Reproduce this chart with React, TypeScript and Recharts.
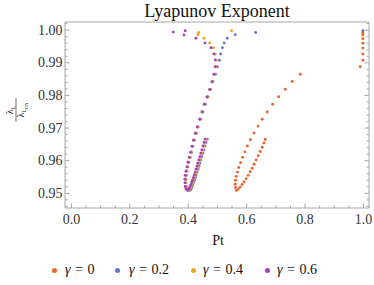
import { ScatterChart, Scatter, XAxis, YAxis } from "recharts";

const FONT = '"Liberation Serif", "Times New Roman", Times, "DejaVu Serif", "Noto Serif", serif';
const FRAME = "#a6a6a6";
const LABEL = "#333333";

const series = ["γ = 0", "γ = 0.2", "γ = 0.4", "γ = 0.6"];
const colors = ["#e8632b", "#6278cf", "#f2a321", "#a246b5"];

// [Pt, ratio] pairs
const gamma0: number[][] = [
  [0.7836, 0.9865], [0.7562, 0.9843], [0.7322, 0.9819], [0.7096, 0.9796], [0.689, 0.9773],
  [0.6705, 0.9749], [0.6534, 0.9727], [0.6394, 0.9706], [0.625, 0.9685], [0.613, 0.9664],
  [0.6027, 0.9645], [0.5942, 0.9627], [0.5863, 0.961], [0.5795, 0.9594], [0.5733, 0.9579],
  [0.5685, 0.9565], [0.5644, 0.9552], [0.5616, 0.954], [0.5606, 0.9528], [0.562, 0.9518],
  [0.5651, 0.9509], [0.5719, 0.9513], [0.5781, 0.9519], [0.5846, 0.9527], [0.5914, 0.9535],
  [0.5983, 0.9545], [0.6051, 0.9555], [0.612, 0.9566], [0.6188, 0.9577], [0.6257, 0.9589],
  [0.6325, 0.9602], [0.6397, 0.9615], [0.6466, 0.9628], [0.6534, 0.9641], [0.6592, 0.9654],
  [0.6637, 0.9665],
  [0.998, 0.9992], [0.998, 0.9986], [0.998, 0.9974], [0.998, 0.996], [0.998, 0.9945],
  [0.998, 0.9927], [0.998, 0.9908], [0.989, 0.9888],
];

const gamma02: number[][] = [
  [0.998, 0.9998], [0.6308, 0.9993], [0.561, 0.9986], [0.5336, 0.9975], [0.5233, 0.9961],
  [0.5171, 0.9946], [0.511, 0.9927], [0.5068, 0.9908], [0.5, 0.9888], [0.4932, 0.9865],
  [0.4846, 0.9842], [0.476, 0.9818], [0.4675, 0.9795], [0.4582, 0.9773], [0.4503, 0.9749],
  [0.4425, 0.9727], [0.4342, 0.9703], [0.4274, 0.9684], [0.4212, 0.9663], [0.4161, 0.9644],
  [0.4116, 0.9626], [0.4068, 0.961], [0.4024, 0.9595], [0.399, 0.9581], [0.3955, 0.9568],
  [0.3932, 0.9555], [0.3921, 0.9543], [0.3921, 0.9532], [0.3932, 0.9521], [0.3955, 0.9513],
  [0.4053, 0.9509], [0.408, 0.9511], [0.4104, 0.9515], [0.4128, 0.952], [0.4156, 0.9526],
  [0.4183, 0.9533], [0.4214, 0.954], [0.4245, 0.9548], [0.4275, 0.9556], [0.4306, 0.9565],
  [0.4337, 0.9574], [0.4368, 0.9583], [0.4399, 0.9592], [0.4433, 0.9602], [0.4467, 0.9612],
  [0.4502, 0.9623], [0.4536, 0.9633], [0.4573, 0.9645], [0.4611, 0.9656], [0.4652, 0.9666],
];

const gamma04: number[][] = [
  [0.5486, 0.9998], [0.4356, 0.9993], [0.4332, 0.9986], [0.4538, 0.9975], [0.4733, 0.9961],
  [0.4856, 0.9946], [0.4925, 0.9927], [0.4959, 0.9908], [0.4949, 0.9888], [0.4897, 0.9865],
  [0.4829, 0.9842], [0.475, 0.9818], [0.4658, 0.9795], [0.4565, 0.9773], [0.4486, 0.9749],
  [0.4408, 0.9727], [0.4325, 0.9703], [0.4257, 0.9684], [0.4195, 0.9663], [0.4144, 0.9644],
  [0.4099, 0.9626], [0.4051, 0.961], [0.4007, 0.9595], [0.3973, 0.9581], [0.3938, 0.9568],
  [0.3914, 0.9555], [0.3904, 0.9543], [0.3904, 0.9532], [0.3914, 0.9521], [0.3938, 0.9513],
  [0.4018, 0.9509], [0.4045, 0.9511], [0.4069, 0.9515], [0.4093, 0.952], [0.4121, 0.9526],
  [0.4148, 0.9533], [0.4179, 0.954], [0.421, 0.9548], [0.424, 0.9556], [0.4271, 0.9565],
  [0.4302, 0.9574], [0.4333, 0.9583], [0.4364, 0.9592], [0.4398, 0.9602], [0.4432, 0.9612],
  [0.4467, 0.9623], [0.4501, 0.9633], [0.4538, 0.9645], [0.4576, 0.9656], [0.4617, 0.9666],
];

const gamma06: number[][] = [
  [0.3486, 0.9994], [0.3897, 0.9998], [0.3853, 0.9985], [0.4264, 0.9975], [0.4572, 0.9961],
  [0.4777, 0.9946], [0.488, 0.9927], [0.4925, 0.9909], [0.4925, 0.9888], [0.488, 0.9865],
  [0.4812, 0.9842], [0.4733, 0.9818], [0.464, 0.9795], [0.4548, 0.9773], [0.4469, 0.9749],
  [0.439, 0.9727], [0.4308, 0.9703], [0.424, 0.9684], [0.4178, 0.9663], [0.4127, 0.9644],
  [0.4082, 0.9626], [0.4034, 0.961], [0.399, 0.9595], [0.3955, 0.9581], [0.3921, 0.9568],
  [0.3897, 0.9555], [0.3887, 0.9543], [0.3887, 0.9532], [0.3897, 0.9521], [0.3921, 0.9513],
  [0.3983, 0.9509], [0.401, 0.9511], [0.4034, 0.9515], [0.4058, 0.952], [0.4086, 0.9526],
  [0.4113, 0.9533], [0.4144, 0.954], [0.4175, 0.9548], [0.4205, 0.9556], [0.4236, 0.9565],
  [0.4267, 0.9574], [0.4298, 0.9583], [0.4329, 0.9592], [0.4363, 0.9602], [0.4397, 0.9612],
  [0.4432, 0.9623], [0.4466, 0.9633], [0.4503, 0.9645], [0.4541, 0.9656], [0.4582, 0.9666],
];

const allSeries = [gamma0, gamma02, gamma04, gamma06];

const xMajor = [0, 0.2, 0.4, 0.6, 0.8, 1.0];
const xTicks = [
  0, 0.05, 0.1, 0.15, 0.2, 0.25, 0.3, 0.35, 0.4, 0.45, 0.5,
  0.55, 0.6, 0.65, 0.7, 0.75, 0.8, 0.85, 0.9, 0.95, 1.0,
];
const yMajor = [0.95, 0.96, 0.97, 0.98, 0.99, 1.0];
const yTicks = [
  0.946, 0.948, 0.95, 0.952, 0.954, 0.956, 0.958, 0.96, 0.962, 0.964, 0.966, 0.968,
  0.97, 0.972, 0.974, 0.976, 0.978, 0.98, 0.982, 0.984, 0.986, 0.988, 0.99, 0.992,
  0.994, 0.996, 0.998, 1.0, 1.002,
];

const xDomain = [-0.022, 1.019];
const yDomain = [0.9455, 1.0025];

const isMajor = (v: number, majors: number[]) => majors.some((m) => Math.abs(m - v) < 1e-9);

function makeTick(side: "bottom" | "top" | "left" | "right") {
  return (props: any) => {
    const { x, y, payload } = props;
    const v = payload.value as number;
    const major = isMajor(v, side === "bottom" || side === "top" ? xMajor : yMajor);
    const len = major ? 4.5 : 2.5;
    if (side === "bottom") {
      return (
        <g>
          <line x1={x} x2={x} y1={y} y2={y - len} stroke={FRAME} />
          {major && (
            <text x={x} y={y + 16} textAnchor="middle" fontSize={14} fontFamily={FONT} fill={LABEL}>
              {v.toFixed(1)}
            </text>
          )}
        </g>
      );
    }
    if (side === "top") {
      return <line x1={x} x2={x} y1={y} y2={y + len} stroke={FRAME} />;
    }
    if (side === "left") {
      return (
        <g>
          <line x1={x} x2={x + len} y1={y} y2={y} stroke={FRAME} />
          {major && (
            <text x={x - 2.5} y={y + 4.7} textAnchor="end" fontSize={14} fontFamily={FONT} fill={LABEL}>
              {v.toFixed(2)}
            </text>
          )}
        </g>
      );
    }
    return <line x1={x} x2={x - len} y1={y} y2={y} stroke={FRAME} />;
  };
}

// legend marker centres and text starts
const legendDot = [54, 117, 193, 267];
const legendText = [65, 129, 203, 277];

export default function App() {
  return (
    <div style={{ position: "absolute", left: 0, top: 0, width: 374, height: 285, background: "#fff" }}>
      <ScatterChart width={374} height={285} margin={{ top: 0, right: 0, bottom: 57, left: 0 }}>
        <XAxis
          xAxisId="x"
          type="number"
          dataKey="x"
          domain={xDomain}
          ticks={xTicks}
          interval={0}
          allowDataOverflow
          height={20}
          tickSize={0}
          tickMargin={0}
          tickLine={false}
          axisLine={{ stroke: FRAME }}
          tick={makeTick("bottom")}
        />
        <XAxis
          xAxisId="xt"
          orientation="top"
          type="number"
          domain={xDomain}
          ticks={xTicks}
          interval={0}
          allowDataOverflow
          height={22}
          tickSize={0}
          tickMargin={0}
          tickLine={false}
          axisLine={{ stroke: FRAME }}
          tick={makeTick("top")}
        />
        <YAxis
          yAxisId="y"
          type="number"
          dataKey="y"
          domain={yDomain}
          ticks={yTicks}
          interval={0}
          allowDataOverflow
          width={65}
          tickSize={0}
          tickMargin={0}
          tickLine={false}
          axisLine={{ stroke: FRAME }}
          tick={makeTick("left")}
        />
        <YAxis
          yAxisId="yr"
          orientation="right"
          type="number"
          domain={yDomain}
          ticks={yTicks}
          interval={0}
          allowDataOverflow
          width={5}
          tickSize={0}
          tickMargin={0}
          tickLine={false}
          axisLine={{ stroke: FRAME }}
          tick={makeTick("right")}
        />
        {allSeries.map((pts, i) => (
          <Scatter
            key={series[i]}
            name={series[i]}
            xAxisId="x"
            yAxisId="y"
            data={pts.map(([x, y]) => ({ x, y }))}
            isAnimationActive={false}
            shape={(p: any) => <circle cx={p.cx} cy={p.cy} r={1.45} fill={colors[i]} />}
          />
        ))}
      </ScatterChart>

      <div
        style={{
          position: "absolute", left: 65, width: 304, top: 0, textAlign: "center",
          fontFamily: FONT, fontSize: 18, color: "#111", lineHeight: "22px",
        }}
      >
        Lyapunov Exponent
      </div>
      <div
        style={{
          position: "absolute", left: 168, width: 100, top: 232, textAlign: "center",
          fontFamily: FONT, fontSize: 14, color: "#111", lineHeight: "18px",
        }}
      >
        Pt
      </div>
      <svg width={30} height={60} style={{ position: "absolute", left: 1, top: 80 }}>
        <g transform="translate(15,30) rotate(-90)" fontFamily={FONT} fill="#111" textAnchor="middle">
          <text x={0} y={-3} fontSize={10}>
            λ<tspan fontSize={6} dy={2}>L</tspan>
          </text>
          <line x1={-12} x2={12} y1={0} y2={0} stroke="#111" strokeWidth={0.6} />
          <text x={0} y={8} fontSize={10}>
            λ<tspan fontSize={6} dy={2}>L</tspan>
            <tspan fontSize={4.5} dy={1.5}>GN</tspan>
          </text>
        </g>
      </svg>
      {series.map((s, i) => (
        <div key={s}>
          <span
            style={{
              position: "absolute", left: legendDot[i] - 2.5, top: 267.5, width: 5, height: 5,
              borderRadius: 3, background: colors[i],
            }}
          />
          <span
            style={{
              position: "absolute", left: legendText[i], top: 261, fontFamily: FONT,
              fontSize: 14, color: "#111", lineHeight: "18px", whiteSpace: "nowrap",
              wordSpacing: 1,
            }}
          >
            <i>γ</i> = {s.replace("γ = ", "")}
          </span>
        </div>
      ))}
    </div>
  );
}
